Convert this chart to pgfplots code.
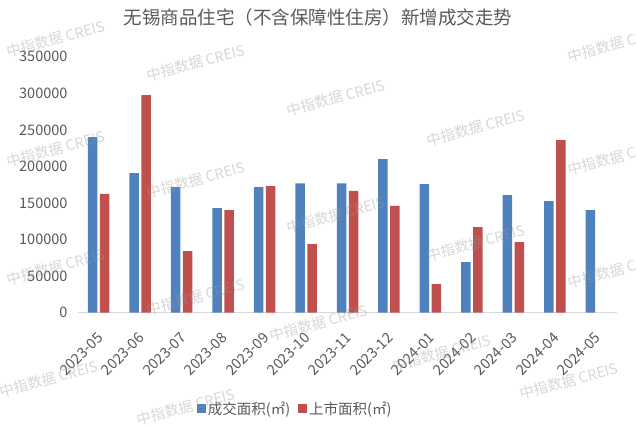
\documentclass[border=0pt]{standalone}
\usepackage{fontspec}
\setmainfont{Noto Sans CJK SC}
\usepackage{pgfplots}
\pgfplotsset{compat=1.18}
\definecolor{cblue}{HTML}{4F81BD}
\definecolor{cred}{HTML}{C0504D}
\definecolor{txt}{HTML}{595959}
\definecolor{axl}{HTML}{D9D9D9}
\definecolor{wm}{HTML}{9A9A9A}
\begin{document}
\begin{tikzpicture}
\useasboundingbox (0bp,0bp) rectangle (636bp,-427bp);
\begin{axis}[
  at={(78bp,-312.7bp)}, anchor=south west,
  scale only axis, width=539bp, height=256bp,
  xmin=-0.5, xmax=12.5, ymin=0, ymax=350000,
  ybar=2.5bp, bar width=9.5bp,
  axis x line*=bottom, axis y line*=left,
  x axis line style={draw=axl, line width=0.8bp, -},
  y axis line style={draw=none},
  major tick length=0pt,
  xtick={0,...,12},
  xticklabels={2023-05,2023-06,2023-07,2023-08,2023-09,2023-10,2023-11,2023-12,2024-01,2024-02,2024-03,2024-04,2024-05},
  ytick={0,50000,...,350000},
  scaled y ticks=false,
  /pgf/number format/.cd, fixed, 1000 sep={}, assume math mode=true, /pgfplots/.cd,
  tick label style={font=\fontsize{14.5bp}{17bp}\selectfont, text=txt},
  yticklabel style={xshift=-7bp},
  xticklabel style={xshift=4bp, yshift=-20bp, rotate=45, anchor=east},
  legend style={at={(0.403,-0.376)}, anchor=center, draw=none, fill=none,
    legend columns=2, font=\fontsize{14.5bp}{17bp}\selectfont, text=txt,
    /tikz/every even column/.append style={column sep=6bp}},
  legend image code/.code={\fill[#1] (0bp,-4.5bp) rectangle (9bp,4.5bp);},
]
\addplot[fill=cblue, draw=none] coordinates {
(0,240000) (1,191000) (2,171800) (3,143100) (4,171800) (5,176900) (6,176900)
(7,210100) (8,175900) (9,69300) (10,160900) (11,152700) (12,140400)};
\addlegendentry{成交面积(㎡)}
\addplot[fill=cred, draw=none] coordinates {
(0,162300) (1,297600) (2,84300) (3,140400) (4,173200) (5,93900) (6,166400)
(7,145900) (8,39200) (9,117100) (10,96600) (11,236100)};
\addlegendentry{上市面积(㎡)}
\end{axis}
\node[text=txt, font=\fontsize{18.5bp}{22bp}\selectfont] at (318bp,-17bp) {无锡商品住宅（不含保障性住房）新增成交走势};
\foreach \x/\y in {7/52,147/76,287/111,427/141,568/57,7/162,147/193,287/228,427/256,568/170,7/280,147/310,270/336,393/366,568/283,520/394,137/420,0/392}
  \node[rotate=15, anchor=west, text=wm, text opacity=0.4, inner sep=0pt, font=\fontsize{14.5bp}{17bp}\selectfont] at (\x bp,-\y bp) {中指数据 CREIS};
\end{tikzpicture}
\end{document}
